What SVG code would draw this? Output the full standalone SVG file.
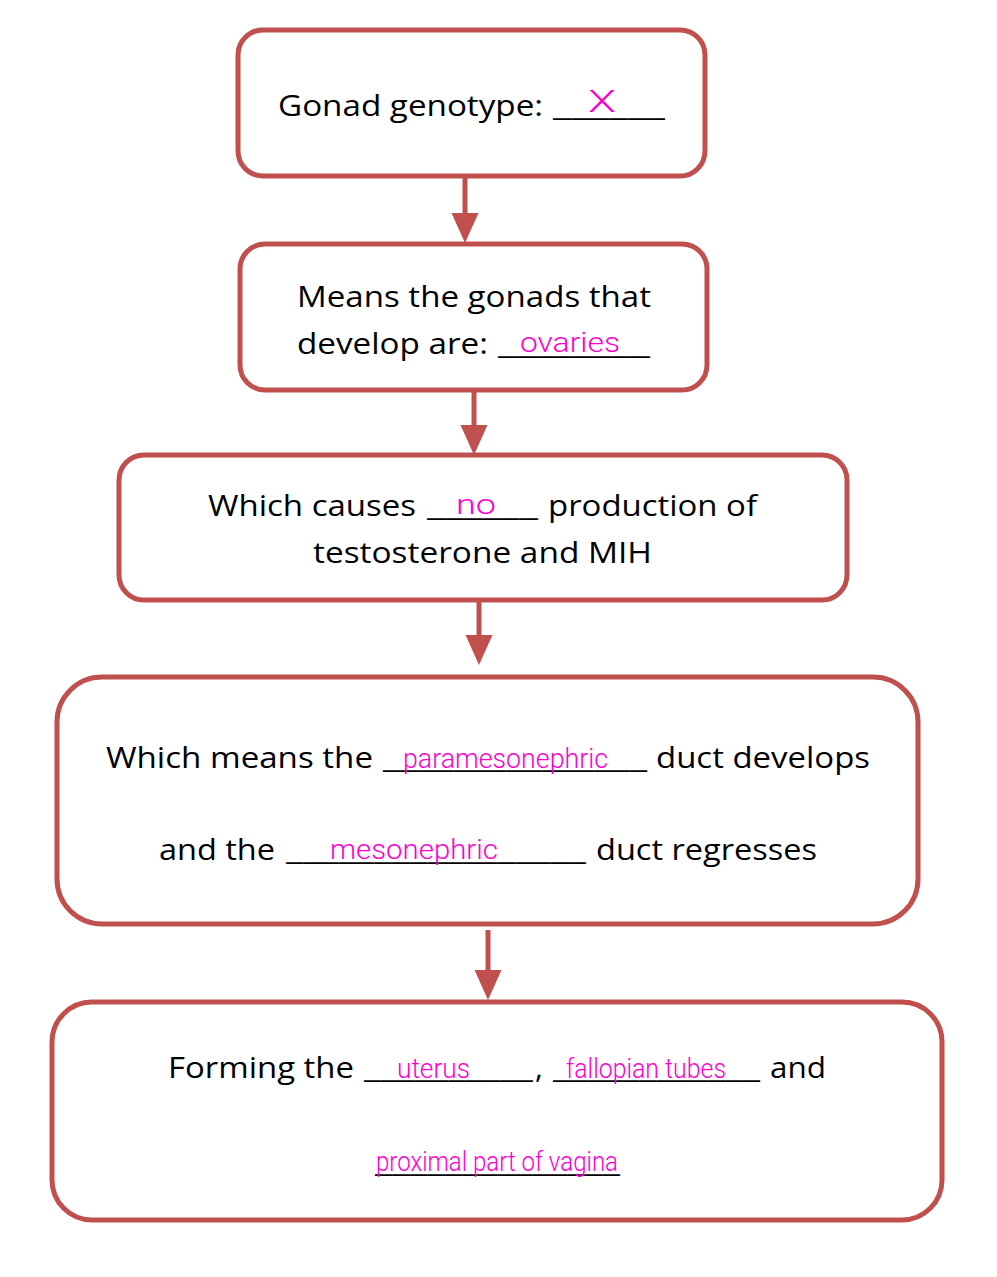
<svg xmlns="http://www.w3.org/2000/svg" width="997" height="1277" viewBox="0 0 997 1277">
<defs>
<style>
.box{fill:#fff;stroke:#C0504D;stroke-width:5}
.t{font-family:"Open Sans",Lato,sans-serif;font-size:30px;fill:#000}
.h{font-family:Roboto,"DejaVu Sans",sans-serif;font-size:28px;font-weight:300;fill:#FF00CC}
.c{stroke:#C0504D;stroke-width:5;fill:none}
</style>
<marker id="ah" markerWidth="6" markerHeight="6" refX="3" refY="3" orient="auto" markerUnits="strokeWidth" viewBox="0 0 6 6">
<path d="M0,0.3 L6,3 L0,5.7 z" fill="#C0504D"/>
</marker>
</defs>
<rect width="997" height="1277" fill="#fff"/>
<g id="connectors">
<line class="c" x1="465" y1="176" x2="465" y2="228" marker-end="url(#ah)"/>
<line class="c" x1="474" y1="390" x2="474" y2="440" marker-end="url(#ah)"/>
<line class="c" x1="479" y1="600" x2="479" y2="650" marker-end="url(#ah)"/>
<line class="c" x1="488" y1="930" x2="488" y2="985" marker-end="url(#ah)"/>
</g>
<g id="node1">
<rect class="box" x="238" y="30" width="467" height="146" rx="25"/>
<text class="t" x="278" y="116" textLength="265" lengthAdjust="spacingAndGlyphs">Gonad genotype:</text>
<text class="t" x="553" y="116" textLength="112" lengthAdjust="spacingAndGlyphs">______</text>
<text class="h" x="588" y="112" textLength="28" lengthAdjust="spacingAndGlyphs" style="font-size:32px">X</text>
</g>
<g id="node2">
<rect class="box" x="240" y="244" width="467" height="146" rx="25"/>
<text class="t" x="297" y="307" textLength="354" lengthAdjust="spacingAndGlyphs">Means the gonads that</text>
<text class="t" x="297" y="354" textLength="191" lengthAdjust="spacingAndGlyphs">develop are:</text>
<text class="t" x="498" y="354" textLength="152" lengthAdjust="spacingAndGlyphs">________</text>
<text class="h" x="520" y="352" textLength="100" lengthAdjust="spacingAndGlyphs">ovaries</text>
</g>
<g id="node3">
<rect class="box" x="119" y="455" width="728" height="145" rx="25"/>
<text class="t" x="208" y="516" textLength="208" lengthAdjust="spacingAndGlyphs">Which causes</text>
<text class="t" x="427" y="516" textLength="111" lengthAdjust="spacingAndGlyphs">______</text>
<text class="t" x="548" y="516" textLength="209" lengthAdjust="spacingAndGlyphs">production of</text>
<text class="t" x="313" y="563" textLength="339" lengthAdjust="spacingAndGlyphs">testosterone and MIH</text>
<text class="h" x="456" y="514" textLength="40" lengthAdjust="spacingAndGlyphs">no</text>
</g>
<g id="node4">
<rect class="box" x="57" y="677" width="861" height="247" rx="45"/>
<text class="t" x="106" y="768" textLength="267" lengthAdjust="spacingAndGlyphs">Which means the</text>
<text class="t" x="383" y="768" textLength="264" lengthAdjust="spacingAndGlyphs">_______________</text>
<text class="t" x="656" y="768" textLength="214" lengthAdjust="spacingAndGlyphs">duct develops</text>
<text class="t" x="159" y="860" textLength="116" lengthAdjust="spacingAndGlyphs">and the</text>
<text class="t" x="286" y="860" textLength="300" lengthAdjust="spacingAndGlyphs">_________________</text>
<text class="t" x="596" y="860" textLength="221" lengthAdjust="spacingAndGlyphs">duct regresses</text>
<text class="h" x="403" y="768" textLength="205" lengthAdjust="spacingAndGlyphs">paramesonephric</text>
<text class="h" x="330" y="859" textLength="168" lengthAdjust="spacingAndGlyphs">mesonephric</text>
</g>
<g id="node5">
<rect class="box" x="52" y="1002" width="890" height="218" rx="40"/>
<text class="t" x="168" y="1078" textLength="186" lengthAdjust="spacingAndGlyphs">Forming the</text>
<text class="t" x="364" y="1078" textLength="169" lengthAdjust="spacingAndGlyphs">__________</text>
<text class="t" x="535" y="1078">,</text>
<text class="t" x="553" y="1078" textLength="207" lengthAdjust="spacingAndGlyphs">____________</text>
<text class="t" x="770" y="1078" textLength="56" lengthAdjust="spacingAndGlyphs">and</text>
<text class="t" x="375" y="1172" textLength="245" lengthAdjust="spacingAndGlyphs">______________</text>
<text class="h" x="397" y="1078" textLength="73" lengthAdjust="spacingAndGlyphs">uterus</text>
<text class="h" x="566" y="1078" textLength="160" lengthAdjust="spacingAndGlyphs">fallopian tubes</text>
<text class="h" x="376" y="1171" textLength="242" lengthAdjust="spacingAndGlyphs">proximal part of vagina</text>
</g>
</svg>
